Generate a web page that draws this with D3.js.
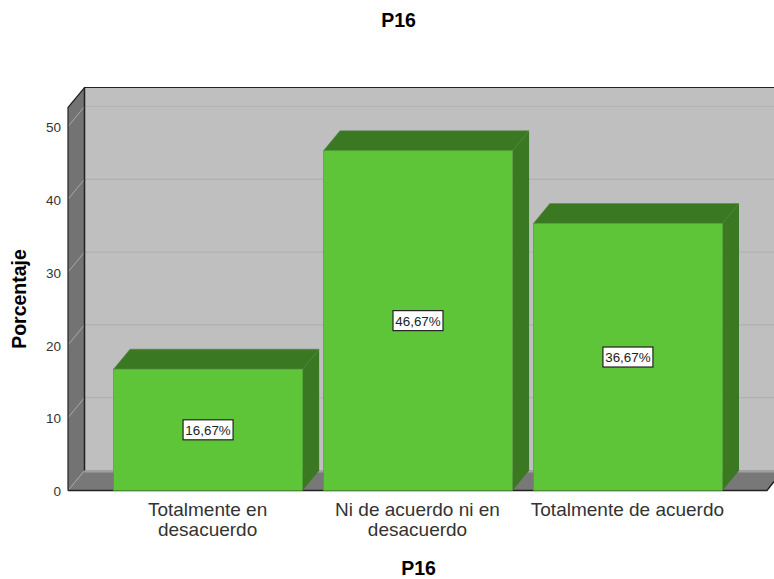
<!DOCTYPE html>
<html><head><meta charset="utf-8">
<script src="https://cdn.jsdelivr.net/npm/d3@7"></script>
<style>html,body{margin:0;padding:0;background:#fff;overflow:hidden}svg{display:block}text{font-family:"Liberation Sans",Arial,sans-serif;fill:#000}</style>
</head><body><svg id="c" width="774" height="579"></svg>
<script>
const categories = ["Totalmente en desacuerdo","Ni de acuerdo ni en desacuerdo","Totalmente de acuerdo"];
const categoryLines = [["Totalmente en","desacuerdo"],["Ni de acuerdo ni en","desacuerdo"],["Totalmente de acuerdo"]];
const values = [16.67,46.67,36.67];
const valueLabels = ["16,67%","46,67%","36,67%"];
const yTicks = [0,10,20,30,40,50];
const title = "P16", xTitle = "P16", yTitle = "Porcentaje";

const svg = d3.select("#c");
const dx = 16.5, dy = 20;
const left = 68, right = 767, base = 490.5, top0 = 107.5;
const y = d3.scaleLinear().domain([0,50]).range([base,126.5]);
const x = d3.scaleBand().domain(categories).range([103,733]).paddingInner(0.099).paddingOuter(0.05);
const pts = a => a.map(p=>p.join(",")).join(" ");

// back wall
svg.append("rect").attr("x",left+dx).attr("y",top0-dy).attr("width",774-left-dx).attr("height",base-top0).attr("fill","#bfbfbf");
// left wall
svg.append("polygon").attr("points",pts([[left,top0],[left+dx,top0-dy],[left+dx,base-dy],[left,base]])).attr("fill","#737373");
// floor
svg.append("polygon").attr("points",pts([[left,base],[left+dx,base-dy],[774,base-dy],[774,base-9],[right,base]])).attr("fill","#787878");
svg.append("rect").attr("x",left+dx).attr("y",base-dy-0.5).attr("width",774-left-dx).attr("height",2.5).attr("fill","#a0a0a0");

// gridlines
svg.append("g").selectAll("line").data(yTicks.filter(d=>d>0)).join("line")
  .attr("x1",left+dx).attr("x2",774).attr("y1",d=>y(d)-dy).attr("y2",d=>y(d)-dy)
  .attr("stroke",d=>d===50?"#b4b4b4":"#adadad").attr("stroke-width",1);
svg.append("g").selectAll("line").data(yTicks.filter(d=>d>0)).join("line")
  .attr("x1",left).attr("x2",left+dx).attr("y1",d=>y(d)).attr("y2",d=>y(d)-dy)
  .attr("stroke","#a8a8a8").attr("stroke-width",1);
svg.append("line").attr("x1",left).attr("x2",left+dx).attr("y1",base).attr("y2",base-dy).attr("stroke","#a8a8a8");

// frame
const frame = svg.append("g").attr("stroke","#222").attr("fill","none").attr("stroke-width",1.2);
frame.append("path").attr("d",`M${left},${base}V${top0}L${left+dx},${top0-dy}H774`);
frame.append("path").attr("d",`M${left+dx},${top0-dy}V${base-dy}`).attr("stroke-width",1.5);
frame.append("path").attr("d",`M${left},${base}H${right}L774,${base-9}`).attr("stroke-width",1.4);

// bars
const g = svg.append("g").selectAll("g").data(categories.map((c,i)=>({c,v:values[i],l:valueLabels[i],i}))).join("g");
g.append("polygon").attr("fill","#3b7822").attr("stroke","#5f7f55").attr("stroke-width",.5)
  .attr("points",d=>{const a=x(d.c),b=a+x.bandwidth(),t=y(d.v);return pts([[a,t],[a+dx,t-dy],[b+dx,t-dy],[b,t]]);});
g.append("polygon").attr("fill","#3b7822")
  .attr("points",d=>{const b=x(d.c)+x.bandwidth(),t=y(d.v);return pts([[b,t],[b+dx,t-dy],[b+dx,base-dy],[b,base]]);});
g.append("rect").attr("fill","#5ec438").attr("stroke","#4f9a33").attr("stroke-width",.6)
  .attr("x",d=>x(d.c)).attr("y",d=>y(d.v)).attr("width",x.bandwidth()).attr("height",d=>base-y(d.v));

// value labels
g.append("rect").attr("fill","#fff").attr("stroke","#222").attr("stroke-width",1.2)
  .attr("x",d=>x(d.c)+x.bandwidth()/2-25).attr("y",d=>y(d.v/2)-10).attr("width",50).attr("height",20);
g.append("text").attr("text-anchor","middle").attr("font-size",13.4).attr("style","fill:#222")
  .attr("x",d=>x(d.c)+x.bandwidth()/2).attr("y",d=>y(d.v/2)+5).text(d=>d.l);

// y axis
const ax = svg.append("g").attr("transform",`translate(${left},0.8)`).call(d3.axisLeft(y).tickValues(yTicks).tickFormat(d3.format("d")).tickSize(0).tickPadding(7));
ax.select(".domain").remove();
ax.selectAll("text").attr("font-size",13.5).attr("font-family",'"Liberation Sans"').attr("style","fill:#333");

// category labels
svg.append("g").selectAll("text").data(categories).join("text")
  .attr("text-anchor","middle").attr("font-size",19).attr("style","fill:#333")
  .attr("transform",c=>`translate(${x(c)+x.bandwidth()/2-0.5},516)`)
  .selectAll("tspan").data((c,i)=>categoryLines[i]).join("tspan")
  .attr("x",0).attr("dy",(d,i)=>i?20:0).text(d=>d);

// titles
svg.append("text").attr("x",398.5).attr("y",27).attr("text-anchor","middle").attr("font-size",19.5).attr("font-weight","bold").text(title);
svg.append("text").attr("x",418.5).attr("y",575).attr("text-anchor","middle").attr("font-size",19.5).attr("font-weight","bold").text(xTitle);
svg.append("text").attr("transform","translate(25.5,299) rotate(-90)").attr("text-anchor","middle").attr("font-size",19.5).attr("font-weight","bold").text(yTitle);
</script></body></html>
